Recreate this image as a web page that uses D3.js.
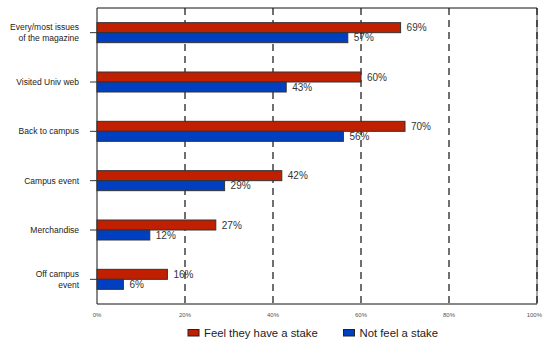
<!DOCTYPE html>
<html>
<head>
<meta charset="utf-8">
<script src="https://cdn.jsdelivr.net/npm/d3@7"></script>
<style>
  html, body { margin: 0; padding: 0; background: #fff; }
  svg { display: block; font-family: Arial, "Liberation Sans", sans-serif; }
</style>
</head>
<body>
<svg id="chart" width="543" height="341"></svg>
<script>
// Categories (top to bottom), label lines per category
const categories = [
  "Every/most issues of the magazine",
  "Visited Univ web",
  "Back to campus",
  "Campus event",
  "Merchandise",
  "Off campus event"
];
const categoryLines = [
  ["Every/most issues", "of the magazine"],
  ["Visited Univ web"],
  ["Back to campus"],
  ["Campus event"],
  ["Merchandise"],
  ["Off campus", "event"]
];
const seriesNames = ["Feel they have a stake", "Not feel a stake"];
const stakeValues = [69, 60, 70, 42, 27, 16];
const noStakeValues = [57, 43, 56, 29, 12, 6];
const xTicks = [0, 20, 40, 60, 80, 100];
const colors = ["#C02000", "#0040C0"];

const svg = d3.select("#chart");
const plotLeft = 97, plotRight = 537, plotTop = 8, plotBottom = 304;

const x = d3.scaleLinear().domain([0, 100]).range([plotLeft, plotRight]);
const y = d3.scaleBand().domain(categories).range([plotTop, plotBottom]).padding(0);
const barH = 10;
const yInner = d3.scaleBand()
  .domain(seriesNames)
  .range([0, y.bandwidth()])
  .paddingInner(0)
  .paddingOuter((y.bandwidth() / barH - 2) / 2);

const rows = categories.map((c, i) => ({
  cat: c, lines: categoryLines[i],
  vals: [stakeValues[i], noStakeValues[i]]
}));

// value labels
const labelG = svg.append("g");
rows.forEach(r => {
  r.vals.forEach((v, j) => {
    labelG.append("text")
      .attr("x", x(v) + 6)
      .attr("y", y(r.cat) + yInner(seriesNames[j]) + barH / 2)
      .attr("dy", "0.35em")
      .attr("font-size", 10)
      .attr("fill", "#333")
      .text(v + "%");
  });
});

// dashed gridlines (the 100% line sits on a grey rule)
svg.append("g").selectAll("line")
  .data(xTicks.filter(t => t === 100))
  .join("line")
  .attr("x1", d => x(d)).attr("x2", d => x(d))
  .attr("y1", plotTop).attr("y2", plotBottom)
  .attr("stroke", "#888")
  .attr("stroke-width", 1.5);
svg.append("g").selectAll("line")
  .data(xTicks.filter(t => t > 0))
  .join("line")
  .attr("x1", d => x(d)).attr("x2", d => x(d))
  .attr("y1", plotTop).attr("y2", plotBottom)
  .attr("stroke", "#111")
  .attr("stroke-width", 1.2)
  .attr("stroke-dasharray", "7,5");

// frame
svg.append("path")
  .attr("d", `M${plotRight},${plotTop}H${plotLeft}V${plotBottom}H${plotRight}`)
  .attr("fill", "none").attr("stroke", "#111").attr("stroke-width", 1);

// bars
rows.forEach(r => {
  r.vals.forEach((v, j) => {
    svg.append("rect")
      .attr("x", x(0))
      .attr("y", y(r.cat) + yInner(seriesNames[j]))
      .attr("width", x(v) - x(0))
      .attr("height", barH)
      .attr("fill", colors[j])
      .attr("stroke", "#333")
      .attr("stroke-width", 1);
  });
});

// category ticks and labels
const catG = svg.append("g");
rows.forEach(r => {
  const cy = y(r.cat) + y.bandwidth() / 2;
  catG.append("line")
    .attr("x1", plotLeft - 7).attr("x2", plotLeft)
    .attr("y1", cy).attr("y2", cy)
    .attr("stroke", "#333");
  const n = r.lines.length;
  r.lines.forEach((ln, k) => {
    catG.append("text")
      .attr("x", 79)
      .attr("y", cy + (k - (n - 1) / 2) * 11)
      .attr("dy", "0.35em")
      .attr("text-anchor", "end")
      .attr("font-size", 8.5)
      .attr("fill", "#222")
      .text(ln);
  });
});

// x tick labels (last one kept inside the page edge)
svg.append("g").selectAll("text")
  .data(xTicks)
  .join("text")
  .attr("x", d => d === 100 ? 542 : x(d))
  .attr("y", 315)
  .attr("dy", "0.35em")
  .attr("text-anchor", d => d === 100 ? "end" : "middle")
  .attr("font-size", 6)
  .attr("fill", "#555")
  .text(d => d + "%");

// legend
const legendX = [188, 343.5];
seriesNames.forEach((s, j) => {
  svg.append("rect")
    .attr("x", legendX[j]).attr("y", 329.5)
    .attr("width", 11).attr("height", 6.5)
    .attr("fill", colors[j]).attr("stroke", "#222");
  svg.append("text")
    .attr("x", legendX[j] + 16).attr("y", 333)
    .attr("dy", "0.35em")
    .attr("font-size", 11.3)
    .attr("fill", "#222")
    .text(s);
});
</script>
</body>
</html>
